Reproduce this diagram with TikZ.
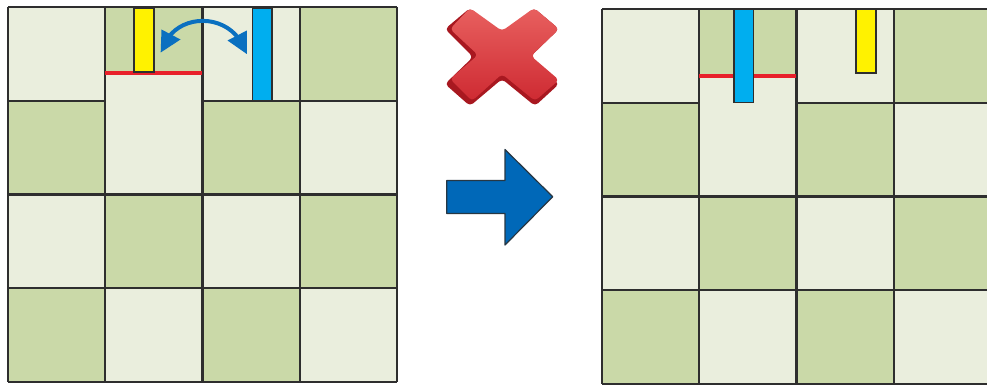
\documentclass[tikz,border=0pt]{standalone}
\usetikzlibrary{calc}
\definecolor{lightcell}{HTML}{EAEEDD}
\definecolor{greencell}{HTML}{CAD9A8}
\definecolor{gridline}{HTML}{2E2E2E}
\definecolor{barblue}{HTML}{00AEEF}
\definecolor{barred}{HTML}{E8202A}
\definecolor{arrowblue}{HTML}{0068B8}
\definecolor{swapblue}{HTML}{0A70C0}
\definecolor{crossdark}{HTML}{A81820}
\definecolor{crossmid}{HTML}{CE2A32}
\definecolor{crosslight}{HTML}{E8605F}
\tikzset{
  gridstroke/.style={draw=gridline,line width=1.6pt},
  barstroke/.style={draw=gridline,line width=1.3pt},
  redline/.style={draw=barred,line width=2.6pt},
}
% #1 x offset, #2 y offset, #3 height of the raised boundary (y of the red line)
\newcommand{\boardgrid}[3]{%
  \begin{scope}[shift={(#1,#2)}]
    \foreach \r in {0,1,2,3}{
      \foreach \c in {0,1,2,3}{
        \pgfmathtruncatemacro{\odd}{mod(\r+\c,2)}
        \ifnum\odd=0 \def\fillc{lightcell}\else \def\fillc{greencell}\fi
        \fill[\fillc] ({\c*97.25},{\r*93.75}) rectangle ({(\c+1)*97.25},{(\r+1)*93.75});
      }
    }
    \fill[lightcell] (97.25,#3) rectangle (194.5,100);
    \foreach \k in {0,1,2,3,4}{
      \draw[gridstroke] ({\k*97.25},0) -- ({\k*97.25},375);
    }
    \draw[gridstroke] (0,0) -- (389,0);
    \draw[gridstroke] (0,93.75) -- (97.25,93.75);
    \draw[gridstroke] (194.5,93.75) -- (389,93.75);
    \draw[gridstroke] (0,187.5) -- (389,187.5);
    \draw[gridstroke] (0,281.25) -- (389,281.25);
    \draw[gridstroke] (0,375) -- (389,375);
  \end{scope}
}
\begin{document}
\begin{tikzpicture}[x=0.75pt,y=-0.75pt,line join=miter]
\useasboundingbox (0,0) rectangle (987,385);
\clip (0,0) rectangle (987,385);
\fill[white] (0,0) rectangle (987,385);

% left board
\boardgrid{8}{7}{66}
\draw[redline] (105,73) -- (202,73);
\filldraw[fill=yellow,barstroke] (134,8) rectangle (154,72);
\filldraw[fill=barblue,barstroke] (252.5,8) rectangle (272,101);

% swap arrow
\draw[swapblue,line width=3pt] (168,38) .. controls (184,15) and (222,15) .. (239,39);
\fill[swapblue] (160.7,52.5) -- (161.5,29.5) -- (180.5,39.5) -- cycle;
\fill[swapblue] (246.8,54) -- (246.8,30.5) -- (227.5,40.5) -- cycle;

% cross
\fill[crossdark,rounded corners=3pt] (502,36) -- (534,8) -- (559,29) -- (530,57) -- (559,84) -- (535,106) -- (502,79) -- (470,106) -- (445,84) -- (473,57) -- (445,29) -- (470,8) -- cycle;
\shade[rounded corners=3pt,top color=crosslight,bottom color=crossmid]
  (502,31) -- (534,8) -- (559,29) -- (531,56) -- (559,80) -- (535,101) -- (502,74) -- (472,101) -- (450,79) -- (478,55) -- (450,29) -- (470,8) -- cycle;

% big arrow
\filldraw[fill=arrowblue,draw=gridline!85!arrowblue,line width=0.9pt,line join=round]
  (446.7,180.5) -- (505,180.5) -- (505,149.5) -- (552.7,196.7) -- (505,245) -- (505,213.5) -- (446.7,213.5) -- cycle;

% right board
\boardgrid{602}{9}{67}
\draw[redline] (699,76) -- (796,76);
\filldraw[fill=barblue,barstroke] (734,9) rectangle (753.5,102.5);
\filldraw[fill=yellow,barstroke] (856,9) rectangle (876,73);
\end{tikzpicture}
\end{document}
